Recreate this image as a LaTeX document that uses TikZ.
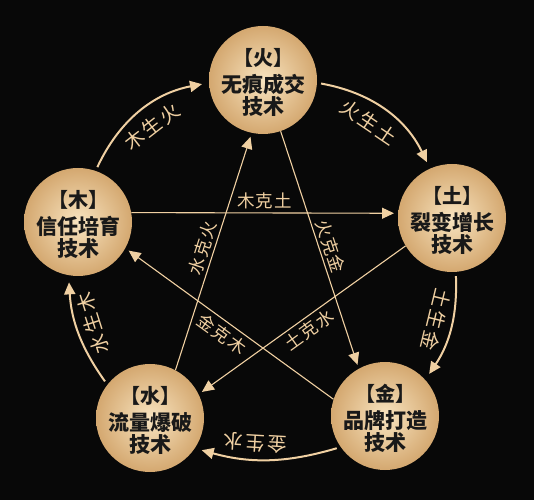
\documentclass[tikz,border=0pt]{standalone}
\usepackage{fontspec}
\usetikzlibrary{arrows.meta}
\newfontfamily\cjk{Noto Sans CJK SC}
\newfontfamily\cjkarc[LetterSpace=12]{Noto Sans CJK SC}
\newfontfamily\cjkstar[LetterSpace=8]{Noto Sans CJK SC}
\definecolor{goldL}{RGB}{248,228,192}
\definecolor{goldD}{RGB}{212,168,112}
\definecolor{lineC}{RGB}{240,208,162}
\definecolor{bg}{RGB}{8,8,8}

\begin{document}
\begin{tikzpicture}[x=1pt,y=1pt,
  elem/.style={circle,minimum size=108pt,inner sep=0pt,inner color=goldL,outer color=goldD,
    label={[eltext]center:{#1}}},
  eltext/.style={align=center,yshift=-2pt,text=black!90,font=\cjk\bfseries\fontsize{21}{22}\selectfont},
  sheng/.style={draw=lineC,line width=2pt,-{Triangle[length=12pt,width=11pt]},
    bend left=#1,shorten <=4pt,shorten >=7pt},
  ke/.style={draw=lineC,line width=1.1pt,-{Triangle[length=12pt,width=11pt]},shorten >=4pt},
  lab/.style={text=lineC,font=\cjkstar\fontsize{17.5}{17.5}\selectfont,inner sep=1pt,sloped},
  arclab/.style={lab,allow upside down,below=#1,font=\cjkarc\fontsize{19.5}{19.5}\selectfont}]
\fill[bg] (0,0) rectangle (534,500);
% the five elements
\node[elem={{\fontsize{20}{20}\selectfont 【火】}\\[5pt]无痕成交\\技术}] (fire)  at (263,420) {};
\node[elem={{\fontsize{20}{20}\selectfont 【木】}\\[5pt]信任培育\\技术}] (wood)  at (78,278)  {};
\node[elem={{\fontsize{20}{20}\selectfont 【土】}\\[5pt]裂变增长\\技术}] (earth) at (452,282) {};
\node[elem={{\fontsize{20}{20}\selectfont 【水】}\\[5pt]流量爆破\\技术}] (water) at (150,82)  {};
\node[elem={{\fontsize{20}{20}\selectfont 【金】}\\[5pt]品牌打造\\技术}] (metal) at (385,84)  {};
% generating cycle
\draw[sheng=27] (wood.71) to node[arclab=8pt] {木生火} (fire.183);
\draw[sheng=27] (fire.357) to node[arclab=8pt,pos=.45] {火生土} (earth.114);
\draw[sheng=18] (earth.274) to node[arclab=5pt,pos=.45] {土生金} (metal.42);
\draw[sheng=16] (metal.215) to node[arclab=5pt,pos=.6] {金生水} (water.326);
\draw[sheng=16] (water.142) to node[arclab=5pt,pos=.55] {水生木} (wood.260);
% controlling star
\draw[ke] (wood.10) -- node[lab,above=2pt] {木克土} (earth.175);
\draw[ke] (earth.211) -- node[lab,below=2pt] {土克水} (water.26);
\draw[ke] (water.62) -- node[lab,above=2pt] {水克火} (fire.258);
\draw[ke] (fire.289) -- node[lab,above=2pt] {火克金} (metal.119);
\draw[ke] (metal.162) -- node[lab,below=3pt,pos=.5] {金克木} (wood.331);
\end{tikzpicture}
\end{document}
